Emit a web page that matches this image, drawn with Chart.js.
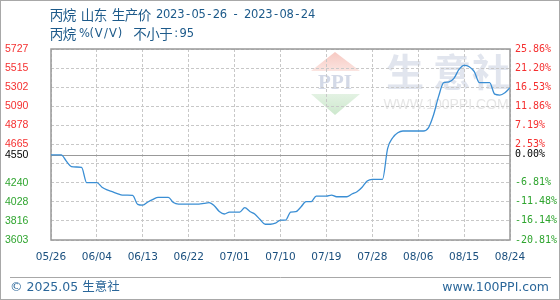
<!DOCTYPE html>
<html>
<head>
<meta charset="utf-8">
<script src="https://cdn.jsdelivr.net/npm/chart.js@4.4.1/dist/chart.umd.min.js"></script>
<style>
  html, body { margin: 0; padding: 0; background: #fff; }
  canvas { display: block; }
</style>
</head>
<body>
<canvas id="chart" width="560" height="300"></canvas>
<script>
const titleLine1 = '丙烷 山东 生产价 2023-05-26 - 2023-08-24';
const titleLine2 = '丙烷 %(V/V)  不小于:95';
const footerLeft = '© 2025.05 生意社';
const footerRight = 'www.100PPI.com';

// one value per calendar day, 05/26 .. 08/24
const prices = [
  4550, 4550, 4550, 4480, 4420, 4415, 4410, 4240, 4240, 4240,
  4190, 4160, 4140, 4120, 4103, 4103, 4100, 3999, 3990, 4026,
  4055, 4078, 4078, 4078, 4020, 4003, 4003, 4003, 4003, 4003,
  4010, 4018, 3985, 3920, 3892, 3914, 3914, 3914, 3962, 3920,
  3890, 3830, 3778, 3778, 3790, 3825, 3825, 3914, 3918, 3970,
  4029, 4029, 4092, 4092, 4092, 4103, 4084, 4084, 4084, 4115,
  4140, 4190, 4259, 4278, 4278, 4278, 4620, 4740, 4795, 4815,
  4815, 4815, 4815, 4815, 4850, 4993, 5200, 5352, 5360, 5400,
  5500, 5545, 5530, 5475, 5352, 5352, 5352, 5225, 5215, 5241,
  5297
];
const dateLabels = ['05/26', '06/04', '06/13', '06/22', '07/01', '07/10', '07/19', '07/28', '08/06', '08/15', '08/24'];
const dateStep = 9;

const baseValue = 4550;
const leftTicks = [3603, 3816, 4028, 4240, 4453, 4550, 4665, 4878, 5090, 5302, 5515, 5727];
const leftLabels = ['3603', '3816', '4028', '4240', '', '4550', '4665', '4878', '5090', '5302', '5515', '5727'];
const rightLabels = ['-20.81%', '-16.14%', '-11.48%', '-6.81%', '', '0.00%', '2.53%', '7.19%', '11.86%', '16.53%', '21.20%', '25.86%'];

function tickColor(c) {
  const v = c.tick.value;
  if (v > baseValue) return '#f53030';
  if (v < baseValue) return '#2fa52f';
  return '#000';
}

// header text: ascii in fixed half cells, cjk in full cells
function drawCells(ctx, text, x, y) {
  for (const ch of text) {
    const wide = ch.charCodeAt(0) > 127;
    const w = wide ? 13 : (ch === ' ' ? 5 : 7.1);
    ctx.font = wide ? '13.5px "Noto Sans CJK SC"' : '11.5px "DejaVu Sans"';
    ctx.fillText(ch, x + w / 2, y);
    x += w;
  }
}

const frame = {
  id: 'frame',
  beforeDraw(chart) {
    const { ctx } = chart;
    ctx.save();
    ctx.fillStyle = '#fff';
    ctx.fillRect(0, 0, chart.width, chart.height);

    // watermark logo
    let g = ctx.createLinearGradient(0, 52, 0, 71);
    g.addColorStop(0, '#f7c9c2');
    g.addColorStop(1, '#fbe4e0');
    ctx.fillStyle = g;
    ctx.beginPath();
    ctx.moveTo(335, 52); ctx.lineTo(360, 71); ctx.lineTo(311, 71); ctx.closePath();
    ctx.fill();
    g = ctx.createLinearGradient(0, 94, 0, 115);
    g.addColorStop(0, '#e3f2e3');
    g.addColorStop(1, '#cde8cd');
    ctx.fillStyle = g;
    ctx.beginPath();
    ctx.moveTo(311, 94); ctx.lineTo(360, 94); ctx.lineTo(335, 115); ctx.closePath();
    ctx.fill();
    ctx.fillStyle = '#d3d9e7';
    ctx.font = 'bold 21px "Liberation Serif"';
    ctx.textAlign = 'center';
    ctx.textBaseline = 'middle';
    ctx.fillText('PPI', 335, 84);

    ctx.fillStyle = '#e1e5ee';
    ctx.font = 'bold 38px "Noto Sans CJK SC"';
    ctx.fillText('生', 405, 72);
    ctx.fillText('意', 452, 72);
    ctx.fillText('社', 491, 72);
    ctx.fillStyle = '#e6e6e6';
    ctx.font = '14px "Liberation Sans"';
    ctx.fillText('WWW.100PPI.COM', 446, 105);
    ctx.restore();
  },
  beforeDatasetsDraw(chart) {
    const { ctx, chartArea: a } = chart;
    const y = Math.round(chart.scales.y.getPixelForValue(baseValue)) + 0.5;
    ctx.save();
    ctx.strokeStyle = '#999';
    ctx.lineWidth = 1;
    ctx.beginPath();
    ctx.moveTo(a.left, y); ctx.lineTo(a.right, y);
    ctx.stroke();
    ctx.lineWidth = 1.5;
    ctx.strokeRect(a.left, a.top, a.right - a.left, a.bottom - a.top);
    ctx.restore();
  },
  afterDraw(chart) {
    const { ctx } = chart;
    ctx.save();
    ctx.textBaseline = 'middle';
    ctx.textAlign = 'center';
    ctx.fillStyle = '#1d5a8a';
    drawCells(ctx, titleLine1, 50, 15);
    drawCells(ctx, titleLine2, 50, 34);

    ctx.strokeStyle = '#a8a8a8';
    ctx.lineWidth = 1;
    ctx.beginPath();
    ctx.moveTo(10, 277.5); ctx.lineTo(551, 277.5);
    ctx.stroke();
    ctx.strokeRect(0.5, 0.5, chart.width - 1, chart.height - 1);

    ctx.fillStyle = '#2b679a';
    ctx.font = '12.5px "DejaVu Sans", "Noto Sans CJK SC"';
    ctx.textAlign = 'left';
    ctx.fillText(footerLeft, 10, 288);
    ctx.textAlign = 'right';
    ctx.fillText(footerRight, 549, 288);
    ctx.restore();
  }
};

new Chart(document.getElementById('chart'), {
  type: 'line',
  data: {
    datasets: [{
      data: prices.map((v, i) => ({ x: i, y: v })),
      borderColor: '#3a8ed4',
      borderWidth: 1.3,
      pointRadius: 0,
      cubicInterpolationMode: 'monotone',
      yAxisID: 'y',
    }],
  },
  options: {
    responsive: false,
    animation: false,
    devicePixelRatio: 1,
    layout: { padding: { left: 5, right: 0, top: 49, bottom: 0 } },
    plugins: { legend: { display: false }, tooltip: { enabled: false } },
    scales: {
      x: {
        type: 'linear',
        min: 0,
        max: prices.length - 1,
        afterBuildTicks: (axis) => { axis.ticks = dateLabels.map((_, i) => ({ value: i * dateStep })); },
        afterFit: (axis) => { axis.height = 60; },
        grid: { color: '#c8c8c8', drawTicks: false },
        border: { display: false, dash: [3, 2] },
        ticks: {
          autoSkip: false,
          maxRotation: 0,
          padding: 11,
          color: '#1a4f7e',
          font: { family: '"DejaVu Sans"', size: 10.5 },
          callback: (v) => dateLabels[v / dateStep],
        },
      },
      y: {
        position: 'left',
        min: leftTicks[0],
        max: leftTicks[leftTicks.length - 1],
        afterBuildTicks: (axis) => { axis.ticks = leftTicks.map((v) => ({ value: v })); },
        afterFit: (axis) => { axis.width = 46; },
        grid: {
          color: (c) => (c.tick && c.tick.value === baseValue ? 'rgba(0,0,0,0)' : '#c8c8c8'),
          drawTicks: false,
        },
        border: { display: false, dash: [3, 2] },
        ticks: {
          autoSkip: false,
          crossAlign: 'far',
          color: tickColor,
          font: { family: '"Liberation Sans"', size: 10.5 },
          callback: (v, i) => leftLabels[i],
        },
      },
      y2: {
        position: 'right',
        min: leftTicks[0],
        max: leftTicks[leftTicks.length - 1],
        afterBuildTicks: (axis) => { axis.ticks = leftTicks.map((v) => ({ value: v })); },
        afterFit: (axis) => { axis.width = 50; },
        grid: { display: false, drawTicks: false },
        border: { display: false },
        ticks: {
          autoSkip: false,
          padding: 5,
          color: tickColor,
          font: { family: '"DejaVu Sans Mono"', size: 10 },
          callback: (v, i) => rightLabels[i],
        },
      },
    },
  },
  plugins: [frame],
});
</script>
</body>
</html>
